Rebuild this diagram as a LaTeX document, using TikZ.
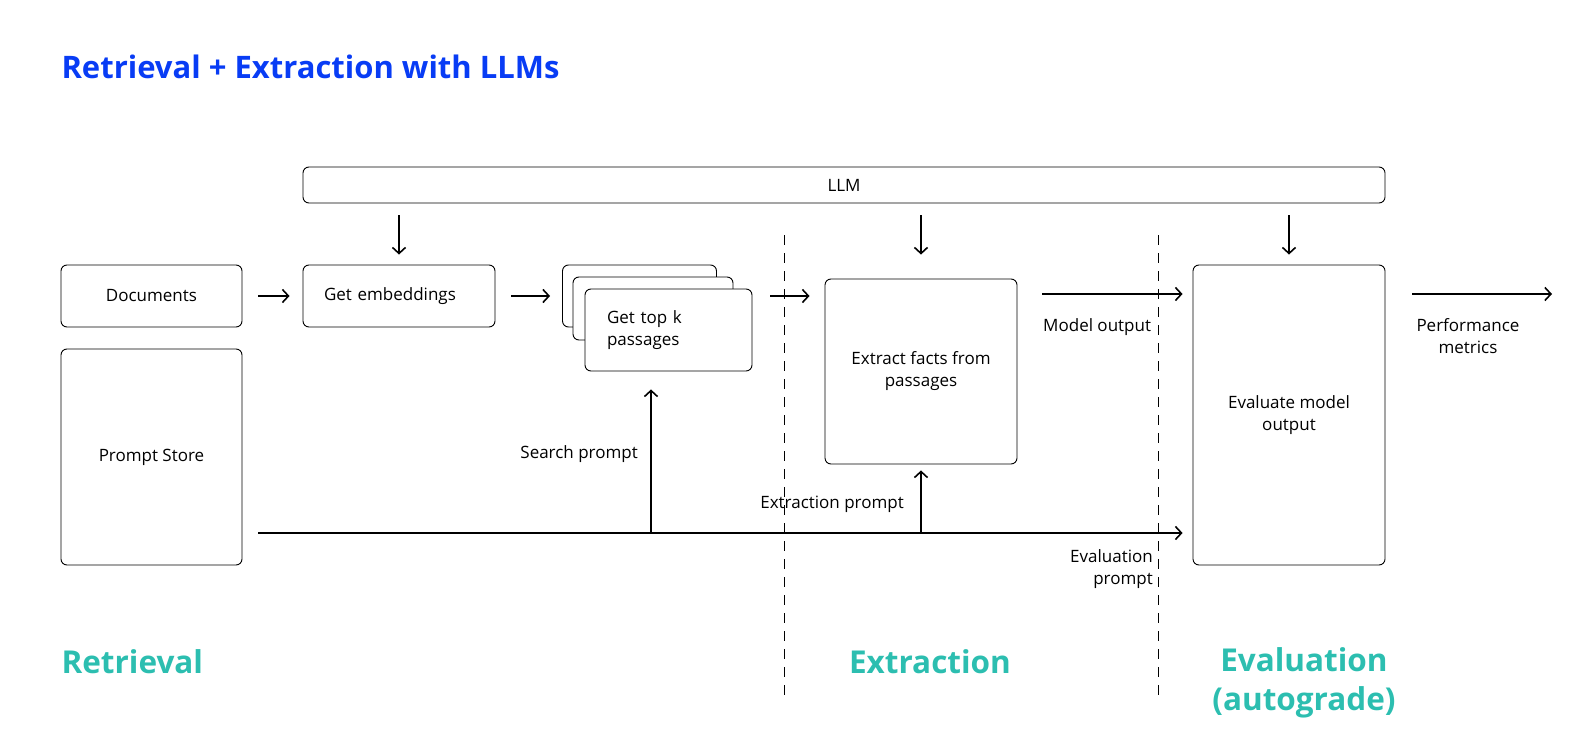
\documentclass[tikz,border=0pt]{standalone}
\usepackage{fontspec}
\setmainfont{Open Sans}
\usetikzlibrary{arrows.meta, positioning}
\definecolor{titleblue}{RGB}{8, 60, 245}
\definecolor{stageteal}{RGB}{44, 190, 176}

\begin{document}
\begin{tikzpicture}[x=1pt, y=-1pt,
  box/.style={draw, rounded corners=6pt, line width=0.9pt, fill=white,
    font=\fontsize{17}{22}\selectfont, align=center},
  flow/.style={-{Straight Barb[length=6pt, width=13pt]}, line width=1.6pt},
  lbl/.style={font=\fontsize{17}{22}\selectfont, inner sep=2pt},
  stage/.style={text=stageteal, font=\fontsize{31.5}{39}\selectfont\bfseries, align=center},
  divider/.style={dash pattern=on 10pt off 8pt, line width=0.9pt}]

  \useasboundingbox (0,0) rectangle (1575,733);

  % title
  \node[anchor=west, text=titleblue, font=\fontsize{31}{36}\selectfont\bfseries]
    (title) at (58,67) {Retrieval + Extraction with LLMs};

  % boxes
  \node[box, minimum width=1082pt, minimum height=36pt] (llm) at (844,185) {LLM};
  \node[box, minimum width=181pt, minimum height=62pt] (docs) at (151.5,296) {Documents};
  \node[box, minimum width=181pt, minimum height=216pt] (prompts) at (151.5,457) {Prompt Store};
  \node[box, minimum width=192pt, minimum height=62pt, inner xsep=21pt,
    text width=150pt, align=left] (embed) at (399,296) {Get embeddings};

  \node[box, minimum width=154pt, minimum height=62pt] (topback) at (639.5,296) {};
  \node[box, minimum width=160pt, minimum height=63pt] (topmid) at (653,308.5) {};
  \node[box, minimum width=167pt, minimum height=82pt, inner xsep=22pt,
    text width=123pt, align=left] (topk) at (668.5,330) {Get top k\\passages};

  \node[box, minimum width=192pt, minimum height=185pt] (extract) at (921,371.5)
    {Extract facts from\\passages};
  \node[box, minimum width=192pt, minimum height=300pt] (eval) at (1289,415)
    {Evaluate model\\output};

  % llm feeds
  \draw[flow] ([yshift=-12pt]llm.south -| embed.north) -- ([yshift=10pt]embed.north);
  \draw[flow] ([yshift=-12pt]llm.south -| extract.north) -- ([yshift=24pt]extract.north);
  \draw[flow] ([yshift=-12pt]llm.south -| eval.north) -- ([yshift=10pt]eval.north);

  % main flow
  \draw[flow] ([xshift=16pt]docs.east) -- ([xshift=-13pt]embed.west);
  \draw[flow] ([xshift=16pt]embed.east) -- ([xshift=-12pt]topback.west);
  \draw[flow] ([xshift=18pt]topk.east |- topback.east) -- ([xshift=-15pt]extract.west |- topback.east);
  \draw[flow] ([xshift=25pt, yshift=2pt]extract.east |- docs.east)
    -- ([xshift=-10pt, yshift=2pt]eval.west |- docs.east);
  \coordinate (metrics) at (1552,294);
  \draw[flow] ([xshift=27pt]eval.east |- metrics) -- (metrics);

  % prompt bus
  \coordinate (busstart) at ([xshift=16pt, yshift=-76pt]prompts.east);
  \coordinate (busend) at ([xshift=-10pt]busstart -| eval.west);
  \coordinate (searchtap) at (651,533);
  \draw[flow] (busstart) -- (busend);
  \draw[flow] (searchtap) -- ([yshift=-18pt]searchtap |- topk.south);
  \draw[flow] (busstart -| extract.south) -- ([yshift=-6pt]extract.south);

  % labels
  \node[lbl, anchor=east] (searchlbl) at (640,454) {Search prompt};
  \node[lbl, anchor=east] (extractlbl) at (906,504) {Extraction prompt};
  \node[lbl, anchor=east, align=right] (evallbl) at (1155,569) {Evaluation\\prompt};
  \node[lbl, anchor=west] (outlbl) at (1041,327) {Model output};
  \node[lbl, align=center] (metriclbl) at (1468,336) {Performance\\metrics};

  % stage dividers
  \draw[divider] (784,235) -- (784,702);
  \draw[divider] (1158,235) -- (1158,702);

  % stages
  \node[stage, anchor=west] (retrieval) at (58,662) {Retrieval};
  \node[stage] (extraction) at (930,662) {Extraction};
  \node[stage] (evaluation) at (1304,683) {Evaluation\\(autograde)};

\end{tikzpicture}
\end{document}
